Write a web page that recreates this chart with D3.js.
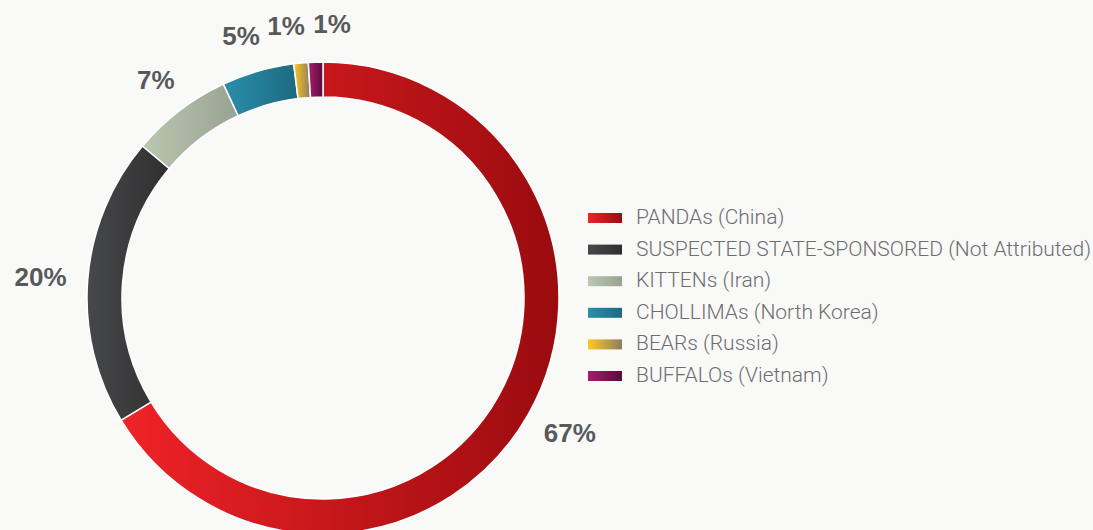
<!DOCTYPE html>
<html lang="en">
<head>
<meta charset="UTF-8">
<title>Targeted intrusions by adversary group</title>
<script src="https://d3js.org/d3.v7.min.js"></script>
<style>
    html, body { margin: 0; padding: 0; background: #f9f9f7; }
    svg { display: block; }
    .pct { font-family: "Liberation Sans", Arial, sans-serif; font-weight: bold; fill: #58595b; }
    .legend-text { font-family: Roboto, "Liberation Sans", sans-serif; font-weight: 300; fill: #6d6e71; }
</style>
</head>
<body>
<svg id="chart"></svg>
<script>
// chart data
const groups = ['PANDAs (China)', 'SUSPECTED STATE-SPONSORED (Not Attributed)', 'KITTENs (Iran)',
    'CHOLLIMAs (North Korea)', 'BEARs (Russia)', 'BUFFALOs (Vietnam)'];
const shares = [67, 20, 7, 5, 1, 1];
const colorsFrom = ['#ef2327', '#47484b', '#bcc7b1', '#2a8eab', '#fcc922', '#a51c6e'];
const colorsTo = ['#9a0b0f', '#2f2f2f', '#97a292', '#1d6a80', '#8e7d62', '#5a0d3c'];

const width = 1093, height = 530;
const cx = 323, cy = 298;
const outerR = 236, innerR = 201, labelR = 275;

const svg = d3.select('#chart').attr('width', width).attr('height', height);

// horizontal gradients, one per group
const defs = svg.append('defs');
groups.forEach((g, i) => {
    const grad = defs.append('linearGradient')
        .attr('id', 'grad' + i)
        .attr('x1', '0%').attr('x2', '100%')
        .attr('y1', '0%').attr('y2', '0%');
    grad.append('stop').attr('offset', '0%').attr('stop-color', colorsFrom[i]);
    grad.append('stop').attr('offset', '100%').attr('stop-color', colorsTo[i]);
});

const pie = d3.pie().sort(null).value(d => d);
const arcs = pie(shares);
const arc = d3.arc().innerRadius(innerR).outerRadius(outerR);

const ring = svg.append('g').attr('transform', `translate(${cx},${cy})`);

ring.selectAll('path')
    .data(arcs)
    .join('path')
    .attr('d', arc)
    .attr('fill', (d, i) => `url(#grad${i})`)
    .attr('stroke', '#ffffff')
    .attr('stroke-width', 1.5);

// label angles: mid angle, then spread the small ones so they don't overlap
const angles = arcs.map(d => (d.startAngle + d.endAngle) / 2);
const minGap = 9.6 * Math.PI / 180;
for (let k = 0; k < 30; k++) {
    for (let i = 1; i < angles.length; i++) {
        const gap = angles[i] - angles[i - 1];
        if (gap < minGap) {
            const push = (minGap - gap) / 2;
            angles[i - 1] -= push;
            angles[i] += push;
        }
    }
}

ring.selectAll('text.pct')
    .data(arcs)
    .join('text')
    .attr('class', 'pct')
    .attr('x', (d, i) => labelR * Math.sin(angles[i]) * (d.value > 10 ? 1.03 : 1))
    .attr('y', (d, i) => -labelR * Math.cos(angles[i]))
    .attr('dy', '0.36em')
    .attr('text-anchor', 'middle')
    .style('font-size', '26px')
    .text(d => d.value + '%');

// legend
const legendY = d3.scalePoint().domain(groups).range([218, 376]);

const legend = svg.append('g');
const rows = legend.selectAll('g')
    .data(groups)
    .join('g')
    .attr('transform', d => `translate(588,${legendY(d)})`);

rows.append('rect')
    .attr('x', 0).attr('y', -5)
    .attr('width', 34).attr('height', 10)
    .attr('fill', (d, i) => `url(#grad${i})`);

rows.append('text')
    .attr('class', 'legend-text')
    .attr('x', 48)
    .attr('y', 6)
    .style('font-size', '21px')
    .text(d => d);
</script>
</body>
</html>
